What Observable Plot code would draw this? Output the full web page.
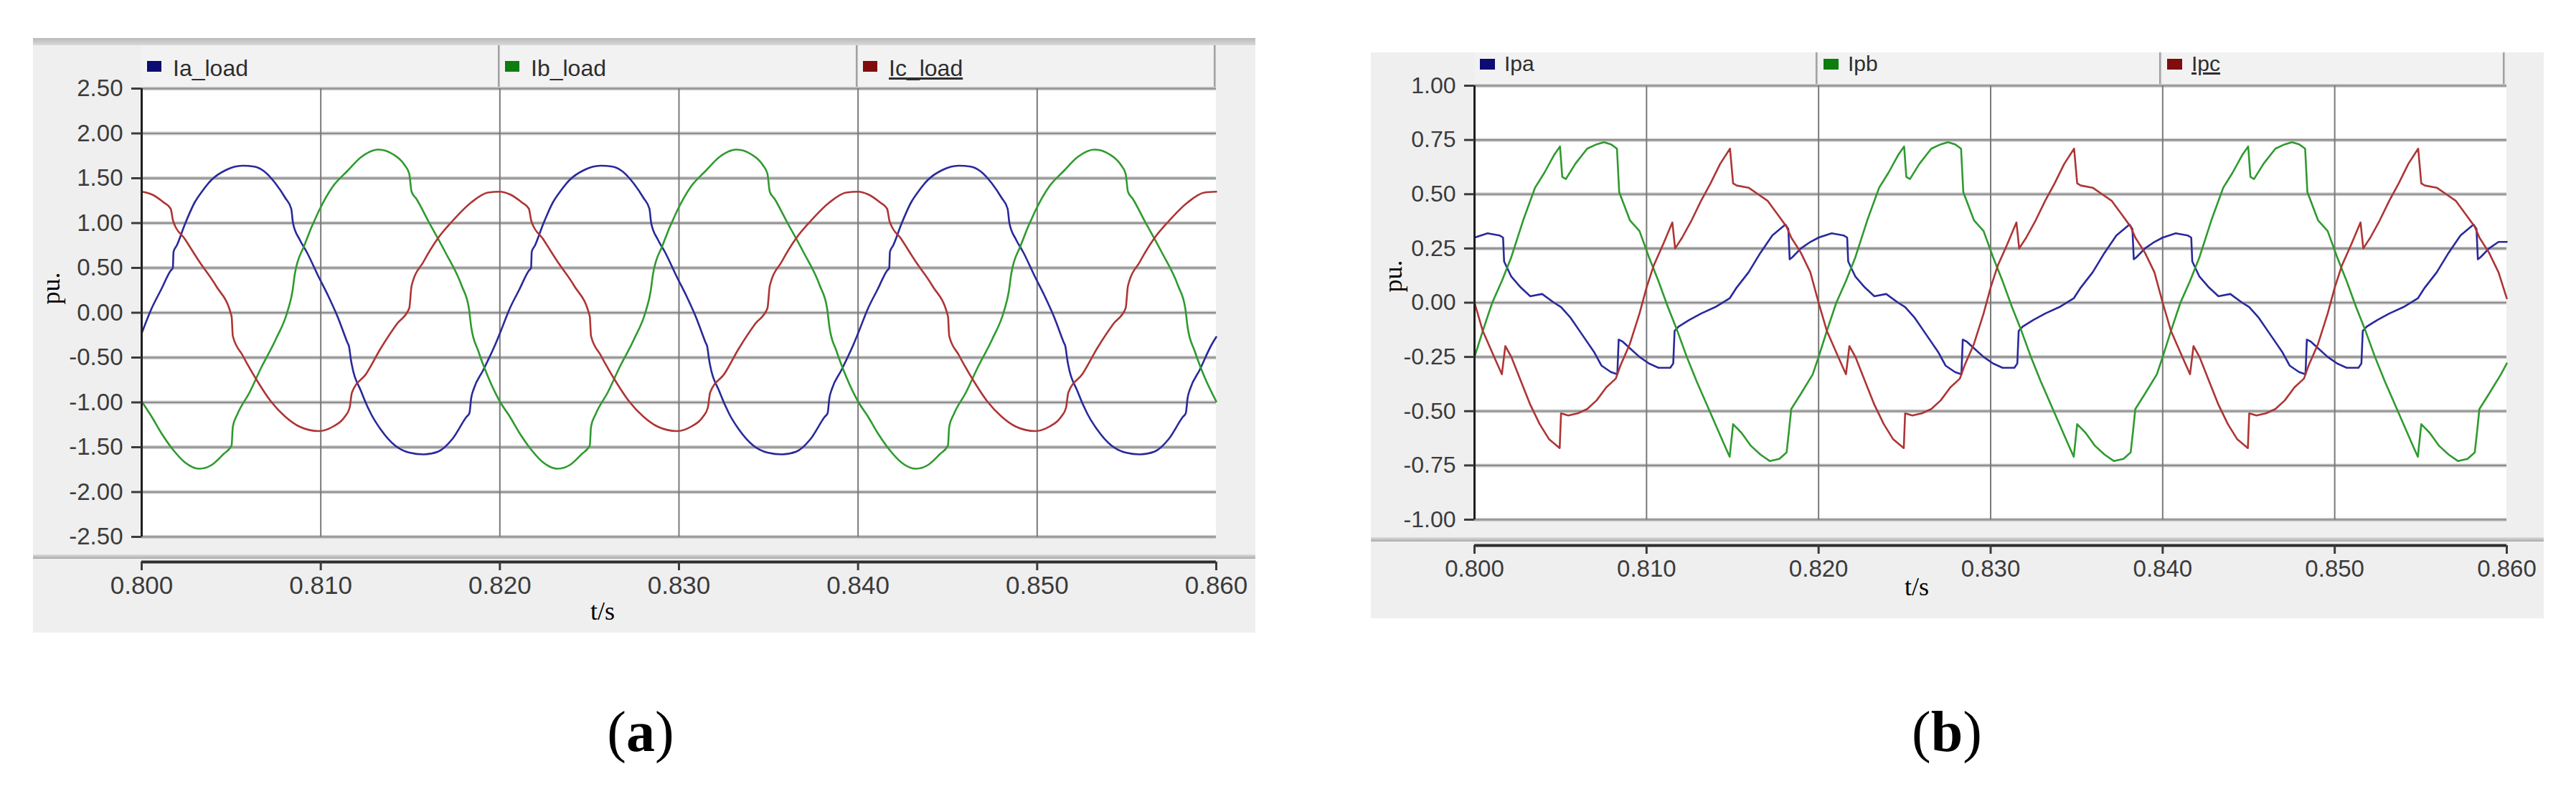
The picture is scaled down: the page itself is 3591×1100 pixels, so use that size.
<!DOCTYPE html>
<html>
<head>
<meta charset="utf-8">
<script src="https://cdn.jsdelivr.net/npm/d3@7"></script>
<script src="https://cdn.jsdelivr.net/npm/@observablehq/plot@0.6"></script>
<style>
  html, body { margin: 0; padding: 0; background: #ffffff; }
  body { position: relative; width: 3591px; height: 1100px; overflow: hidden;
         font-family: "Liberation Sans", Arial, sans-serif; }
  .abs { position: absolute; }
  .serif { font-family: "Liberation Serif", "Times New Roman", serif; color: #000; line-height: 1; white-space: nowrap; }
  .leg { position: absolute; color: #2e2e2e; line-height: 1; white-space: nowrap; }
</style>
</head>
<body>
<script>
// ---------------- DATA ----------------
const xTicks = [0.800, 0.810, 0.820, 0.830, 0.840, 0.850, 0.860];
const yTicksA = [-2.5, -2.0, -1.5, -1.0, -0.5, 0.0, 0.5, 1.0, 1.5, 2.0, 2.5];
const yTicksB = [-1.0, -0.75, -0.5, -0.25, 0.0, 0.25, 0.5, 0.75, 1.0];
const namesA = ["Ia_load", "Ib_load", "Ic_load"];
const namesB = ["Ipa", "Ipb", "Ipc"];
const yLabel = "pu.";
const xLabel = "t/s";
const captionA = "a";
const captionB = "b";

// Panel (a): load currents [t (s), value (pu)]
const iaLoad = [
  [0.80000,-0.23],[0.80056,0.05],[0.80109,0.26],[0.80162,0.47],[0.80174,0.50],[0.80178,0.68],[0.80196,0.75],[0.80242,0.99],[0.80296,1.23],[0.80336,1.35],[0.80389,1.48],[0.80469,1.59],[0.80562,1.64],[0.80628,1.63],[0.80682,1.58],[0.80748,1.44],[0.80802,1.28],[0.80835,1.16],[0.80845,1.00],[0.80881,0.82],[0.80921,0.68],[0.80988,0.40],[0.81041,0.19],[0.81095,-0.05],[0.81148,-0.33],[0.81158,-0.38],[0.81168,-0.52],[0.81228,-0.89],[0.81281,-1.13],[0.81334,-1.30],[0.81414,-1.48],[0.81494,-1.56],[0.81574,-1.58],[0.81654,-1.55],[0.81734,-1.41],[0.81814,-1.16],[0.81830,-1.12],[0.81840,-0.95],[0.81854,-0.85],[0.81907,-0.64],[0.81973,-0.36],
  [0.82000,-0.23],[0.82056,0.05],[0.82109,0.26],[0.82162,0.47],[0.82174,0.50],[0.82178,0.68],[0.82196,0.75],[0.82242,0.99],[0.82296,1.23],[0.82336,1.35],[0.82389,1.48],[0.82469,1.59],[0.82562,1.64],[0.82628,1.63],[0.82682,1.58],[0.82748,1.44],[0.82802,1.28],[0.82835,1.16],[0.82845,1.00],[0.82881,0.82],[0.82921,0.68],[0.82988,0.40],[0.83041,0.19],[0.83095,-0.05],[0.83148,-0.33],[0.83158,-0.38],[0.83168,-0.52],[0.83228,-0.89],[0.83281,-1.13],[0.83334,-1.30],[0.83414,-1.48],[0.83494,-1.56],[0.83574,-1.58],[0.83654,-1.55],[0.83734,-1.41],[0.83814,-1.16],[0.83830,-1.12],[0.83840,-0.95],[0.83854,-0.85],[0.83907,-0.64],[0.83973,-0.36],
  [0.84000,-0.23],[0.84056,0.05],[0.84109,0.26],[0.84162,0.47],[0.84174,0.50],[0.84178,0.68],[0.84196,0.75],[0.84242,0.99],[0.84296,1.23],[0.84336,1.35],[0.84389,1.48],[0.84469,1.59],[0.84562,1.64],[0.84628,1.63],[0.84682,1.58],[0.84748,1.44],[0.84802,1.28],[0.84835,1.16],[0.84845,1.00],[0.84881,0.82],[0.84921,0.68],[0.84988,0.40],[0.85041,0.19],[0.85095,-0.05],[0.85148,-0.33],[0.85158,-0.38],[0.85168,-0.52],[0.85228,-0.89],[0.85281,-1.13],[0.85334,-1.30],[0.85414,-1.48],[0.85494,-1.56],[0.85574,-1.58],[0.85654,-1.55],[0.85734,-1.41],[0.85814,-1.16],[0.85830,-1.12],[0.85840,-0.95],[0.85854,-0.85],[0.85907,-0.64],[0.85973,-0.36],[0.86000,-0.27]
];
const ibLoad = [
  [0.80000,-0.99],[0.80056,-1.16],[0.80109,-1.34],[0.80176,-1.53],[0.80242,-1.67],[0.80322,-1.74],[0.80389,-1.70],[0.80455,-1.58],[0.80502,-1.48],[0.80509,-1.27],[0.80535,-1.13],[0.80602,-0.89],[0.80668,-0.61],[0.80748,-0.30],[0.80815,0.02],[0.80842,0.24],[0.80855,0.43],[0.80908,0.75],[0.80988,1.13],[0.81068,1.41],[0.81148,1.58],[0.81228,1.74],[0.81321,1.82],[0.81401,1.77],[0.81467,1.65],[0.81494,1.55],[0.81507,1.35],[0.81534,1.27],[0.81601,1.02],[0.81694,0.68],[0.81787,0.30],[0.81827,0.05],[0.81840,-0.16],[0.81880,-0.43],[0.81933,-0.71],
  [0.82000,-0.99],[0.82056,-1.16],[0.82109,-1.34],[0.82176,-1.53],[0.82242,-1.67],[0.82322,-1.74],[0.82389,-1.70],[0.82455,-1.58],[0.82502,-1.48],[0.82509,-1.27],[0.82535,-1.13],[0.82602,-0.89],[0.82668,-0.61],[0.82748,-0.30],[0.82815,0.02],[0.82842,0.24],[0.82855,0.43],[0.82908,0.75],[0.82988,1.13],[0.83068,1.41],[0.83148,1.58],[0.83228,1.74],[0.83321,1.82],[0.83401,1.77],[0.83467,1.65],[0.83494,1.55],[0.83507,1.35],[0.83534,1.27],[0.83601,1.02],[0.83694,0.68],[0.83787,0.30],[0.83827,0.05],[0.83840,-0.16],[0.83880,-0.43],[0.83933,-0.71],
  [0.84000,-0.99],[0.84056,-1.16],[0.84109,-1.34],[0.84176,-1.53],[0.84242,-1.67],[0.84322,-1.74],[0.84389,-1.70],[0.84455,-1.58],[0.84502,-1.48],[0.84509,-1.27],[0.84535,-1.13],[0.84602,-0.89],[0.84668,-0.61],[0.84748,-0.30],[0.84815,0.02],[0.84842,0.24],[0.84855,0.43],[0.84908,0.75],[0.84988,1.13],[0.85068,1.41],[0.85148,1.58],[0.85228,1.74],[0.85321,1.82],[0.85401,1.77],[0.85467,1.65],[0.85494,1.55],[0.85507,1.35],[0.85534,1.27],[0.85601,1.02],[0.85694,0.68],[0.85787,0.30],[0.85827,0.05],[0.85840,-0.16],[0.85880,-0.43],[0.85933,-0.71],[0.86000,-0.99]
];
const icLoad = [
  [0.80000,1.35],[0.80056,1.32],[0.80123,1.23],[0.80162,1.16],[0.80176,1.02],[0.80242,0.82],[0.80322,0.57],[0.80415,0.30],[0.80502,-0.04],[0.80509,-0.26],[0.80562,-0.47],[0.80642,-0.75],[0.80722,-0.99],[0.80802,-1.16],[0.80881,-1.27],[0.80988,-1.32],[0.81068,-1.27],[0.81134,-1.16],[0.81161,-1.06],[0.81174,-0.89],[0.81254,-0.68],[0.81334,-0.40],[0.81427,-0.12],[0.81494,0.05],[0.81507,0.30],[0.81574,0.57],[0.81654,0.83],[0.81734,1.02],[0.81840,1.23],[0.81933,1.34],
  [0.82000,1.35],[0.82056,1.32],[0.82123,1.23],[0.82162,1.16],[0.82176,1.02],[0.82242,0.82],[0.82322,0.57],[0.82415,0.30],[0.82502,-0.04],[0.82509,-0.26],[0.82562,-0.47],[0.82642,-0.75],[0.82722,-0.99],[0.82802,-1.16],[0.82881,-1.27],[0.82988,-1.32],[0.83068,-1.27],[0.83134,-1.16],[0.83161,-1.06],[0.83174,-0.89],[0.83254,-0.68],[0.83334,-0.40],[0.83427,-0.12],[0.83494,0.05],[0.83507,0.30],[0.83574,0.57],[0.83654,0.83],[0.83734,1.02],[0.83840,1.23],[0.83933,1.34],
  [0.84000,1.35],[0.84056,1.32],[0.84123,1.23],[0.84162,1.16],[0.84176,1.02],[0.84242,0.82],[0.84322,0.57],[0.84415,0.30],[0.84502,-0.04],[0.84509,-0.26],[0.84562,-0.47],[0.84642,-0.75],[0.84722,-0.99],[0.84802,-1.16],[0.84881,-1.27],[0.84988,-1.32],[0.85068,-1.27],[0.85134,-1.16],[0.85161,-1.06],[0.85174,-0.89],[0.85254,-0.68],[0.85334,-0.40],[0.85427,-0.12],[0.85494,0.05],[0.85507,0.30],[0.85574,0.57],[0.85654,0.83],[0.85734,1.02],[0.85840,1.23],[0.85933,1.34],[0.86000,1.35]
];

// Panel (b): filter currents [t (s), value (pu)]
const ipa = [
  [0.80000,0.30],[0.80076,0.32],[0.80145,0.31],[0.80166,0.30],[0.80172,0.19],[0.80214,0.12],[0.80269,0.07],[0.80324,0.03],[0.80393,0.04],[0.80462,0.00],[0.80503,-0.02],[0.80559,-0.07],[0.80628,-0.15],[0.80697,-0.23],[0.80738,-0.29],[0.80793,-0.32],[0.80830,-0.33],[0.80838,-0.17],[0.80862,-0.18],[0.80903,-0.21],[0.80959,-0.25],[0.81014,-0.28],[0.81069,-0.30],[0.81138,-0.30],[0.81155,-0.28],[0.81163,-0.13],[0.81186,-0.11],[0.81248,-0.08],[0.81317,-0.05],[0.81400,-0.02],[0.81483,0.02],[0.81524,0.07],[0.81593,0.14],[0.81662,0.23],[0.81731,0.31],[0.81807,0.36],[0.81824,0.34],[0.81832,0.20],[0.81848,0.21],[0.81897,0.25],[0.81952,0.28],
  [0.82000,0.30],[0.82076,0.32],[0.82145,0.31],[0.82166,0.30],[0.82172,0.19],[0.82214,0.12],[0.82269,0.07],[0.82324,0.03],[0.82393,0.04],[0.82462,0.00],[0.82503,-0.02],[0.82559,-0.07],[0.82628,-0.15],[0.82697,-0.23],[0.82738,-0.29],[0.82793,-0.32],[0.82830,-0.33],[0.82838,-0.17],[0.82862,-0.18],[0.82903,-0.21],[0.82959,-0.25],[0.83014,-0.28],[0.83069,-0.30],[0.83138,-0.30],[0.83155,-0.28],[0.83163,-0.13],[0.83186,-0.11],[0.83248,-0.08],[0.83317,-0.05],[0.83400,-0.02],[0.83483,0.02],[0.83524,0.07],[0.83593,0.14],[0.83662,0.23],[0.83731,0.31],[0.83807,0.36],[0.83824,0.34],[0.83832,0.20],[0.83848,0.21],[0.83897,0.25],[0.83952,0.28],
  [0.84000,0.30],[0.84076,0.32],[0.84145,0.31],[0.84166,0.30],[0.84172,0.19],[0.84214,0.12],[0.84269,0.07],[0.84324,0.03],[0.84393,0.04],[0.84462,0.00],[0.84503,-0.02],[0.84559,-0.07],[0.84628,-0.15],[0.84697,-0.23],[0.84738,-0.29],[0.84793,-0.32],[0.84830,-0.33],[0.84838,-0.17],[0.84862,-0.18],[0.84903,-0.21],[0.84959,-0.25],[0.85014,-0.28],[0.85069,-0.30],[0.85138,-0.30],[0.85155,-0.28],[0.85163,-0.13],[0.85186,-0.11],[0.85248,-0.08],[0.85317,-0.05],[0.85400,-0.02],[0.85483,0.02],[0.85524,0.07],[0.85593,0.14],[0.85662,0.23],[0.85731,0.31],[0.85807,0.36],[0.85824,0.34],[0.85832,0.20],[0.85848,0.21],[0.85897,0.25],[0.85952,0.28],[0.86000,0.28]
];
const ipb = [
  [0.80000,-0.25],[0.80048,-0.13],[0.80103,0.00],[0.80159,0.10],[0.80214,0.21],[0.80283,0.38],[0.80352,0.53],[0.80407,0.60],[0.80462,0.68],[0.80497,0.72],[0.80510,0.58],[0.80531,0.57],[0.80586,0.64],[0.80655,0.71],[0.80710,0.73],[0.80752,0.74],[0.80793,0.73],[0.80828,0.71],[0.80841,0.51],[0.80903,0.38],[0.80959,0.33],[0.81014,0.21],[0.81069,0.10],[0.81124,-0.02],[0.81179,-0.13],[0.81234,-0.25],[0.81290,-0.36],[0.81345,-0.46],[0.81400,-0.56],[0.81455,-0.66],[0.81483,-0.71],[0.81503,-0.56],[0.81552,-0.60],[0.81607,-0.66],[0.81662,-0.70],[0.81717,-0.73],[0.81772,-0.72],[0.81814,-0.69],[0.81828,-0.59],[0.81841,-0.49],[0.81897,-0.42],[0.81966,-0.33],
  [0.82000,-0.25],[0.82048,-0.13],[0.82103,0.00],[0.82159,0.10],[0.82214,0.21],[0.82283,0.38],[0.82352,0.53],[0.82407,0.60],[0.82462,0.68],[0.82497,0.72],[0.82510,0.58],[0.82531,0.57],[0.82586,0.64],[0.82655,0.71],[0.82710,0.73],[0.82752,0.74],[0.82793,0.73],[0.82828,0.71],[0.82841,0.51],[0.82903,0.38],[0.82959,0.33],[0.83014,0.21],[0.83069,0.10],[0.83124,-0.02],[0.83179,-0.13],[0.83234,-0.25],[0.83290,-0.36],[0.83345,-0.46],[0.83400,-0.56],[0.83455,-0.66],[0.83483,-0.71],[0.83503,-0.56],[0.83552,-0.60],[0.83607,-0.66],[0.83662,-0.70],[0.83717,-0.73],[0.83772,-0.72],[0.83814,-0.69],[0.83828,-0.59],[0.83841,-0.49],[0.83897,-0.42],[0.83966,-0.33],
  [0.84000,-0.25],[0.84048,-0.13],[0.84103,0.00],[0.84159,0.10],[0.84214,0.21],[0.84283,0.38],[0.84352,0.53],[0.84407,0.60],[0.84462,0.68],[0.84497,0.72],[0.84510,0.58],[0.84531,0.57],[0.84586,0.64],[0.84655,0.71],[0.84710,0.73],[0.84752,0.74],[0.84793,0.73],[0.84828,0.71],[0.84841,0.51],[0.84903,0.38],[0.84959,0.33],[0.85014,0.21],[0.85069,0.10],[0.85124,-0.02],[0.85179,-0.13],[0.85234,-0.25],[0.85290,-0.36],[0.85345,-0.46],[0.85400,-0.56],[0.85455,-0.66],[0.85483,-0.71],[0.85503,-0.56],[0.85552,-0.60],[0.85607,-0.66],[0.85662,-0.70],[0.85717,-0.73],[0.85772,-0.72],[0.85814,-0.69],[0.85828,-0.59],[0.85841,-0.49],[0.85897,-0.42],[0.85966,-0.33],[0.86000,-0.28]
];
const ipc = [
  [0.80000,0.00],[0.80048,-0.13],[0.80103,-0.23],[0.80159,-0.33],[0.80179,-0.20],[0.80214,-0.25],[0.80269,-0.36],[0.80324,-0.47],[0.80379,-0.56],[0.80434,-0.63],[0.80495,-0.67],[0.80503,-0.51],[0.80545,-0.52],[0.80600,-0.51],[0.80655,-0.49],[0.80710,-0.45],[0.80766,-0.39],[0.80821,-0.35],[0.80848,-0.29],[0.80903,-0.19],[0.80959,-0.05],[0.81000,0.07],[0.81041,0.17],[0.81097,0.27],[0.81150,0.37],[0.81166,0.25],[0.81207,0.30],[0.81262,0.38],[0.81317,0.47],[0.81372,0.55],[0.81428,0.64],[0.81485,0.71],[0.81503,0.55],[0.81524,0.54],[0.81593,0.53],[0.81648,0.50],[0.81703,0.47],[0.81759,0.41],[0.81814,0.35],[0.81841,0.30],[0.81897,0.23],[0.81952,0.14],
  [0.82000,0.00],[0.82048,-0.13],[0.82103,-0.23],[0.82159,-0.33],[0.82179,-0.20],[0.82214,-0.25],[0.82269,-0.36],[0.82324,-0.47],[0.82379,-0.56],[0.82434,-0.63],[0.82495,-0.67],[0.82503,-0.51],[0.82545,-0.52],[0.82600,-0.51],[0.82655,-0.49],[0.82710,-0.45],[0.82766,-0.39],[0.82821,-0.35],[0.82848,-0.29],[0.82903,-0.19],[0.82959,-0.05],[0.83000,0.07],[0.83041,0.17],[0.83097,0.27],[0.83150,0.37],[0.83166,0.25],[0.83207,0.30],[0.83262,0.38],[0.83317,0.47],[0.83372,0.55],[0.83428,0.64],[0.83485,0.71],[0.83503,0.55],[0.83524,0.54],[0.83593,0.53],[0.83648,0.50],[0.83703,0.47],[0.83759,0.41],[0.83814,0.35],[0.83841,0.30],[0.83897,0.23],[0.83952,0.14],
  [0.84000,0.00],[0.84048,-0.13],[0.84103,-0.23],[0.84159,-0.33],[0.84179,-0.20],[0.84214,-0.25],[0.84269,-0.36],[0.84324,-0.47],[0.84379,-0.56],[0.84434,-0.63],[0.84495,-0.67],[0.84503,-0.51],[0.84545,-0.52],[0.84600,-0.51],[0.84655,-0.49],[0.84710,-0.45],[0.84766,-0.39],[0.84821,-0.35],[0.84848,-0.29],[0.84903,-0.19],[0.84959,-0.05],[0.85000,0.07],[0.85041,0.17],[0.85097,0.27],[0.85150,0.37],[0.85166,0.25],[0.85207,0.30],[0.85262,0.38],[0.85317,0.47],[0.85372,0.55],[0.85428,0.64],[0.85485,0.71],[0.85503,0.55],[0.85524,0.54],[0.85593,0.53],[0.85648,0.50],[0.85703,0.47],[0.85759,0.41],[0.85814,0.35],[0.85841,0.30],[0.85897,0.23],[0.85952,0.14],[0.86000,0.02]
];

// ---------------- LAYOUT / STYLE ----------------
const lineColors = ["#29299b", "#2f9a2f", "#ad3535"];
const swatchColors = ["#0c0c72", "#0d7d0d", "#800c0c"];

const panels = [
  { names: namesA, series: [iaLoad, ibLoad, icLoad], yTicks: yTicksA, yFloor: -2.78, curve: "monotone-x",
    box: [46, 53, 1704, 829], topBand: true, plotLeft: 197, plotRight: 1695, plotTop: 123, axisY: 783, sepY: 773,
    legend: { left: 198, top: 63, width: 1497, height: 58, font: 32, swX: 7, swY: 22, swW: 20, swH: 15, txX: 43, base: 43 },
    yFont: 33, xFont: 35, pu: [71, 402], ts: [840, 852], cap: [893, 1020], capText: captionA },
  { names: namesB, series: [ipa, ipb, ipc], yTicks: yTicksB, yFloor: -1.119, curve: "linear",
    box: [1911, 73, 1635, 789], topBand: false, plotLeft: 2055, plotRight: 3494, plotTop: 119, axisY: 760, sepY: 749,
    legend: { left: 2055, top: 73, width: 1437, height: 45, font: 30, swX: 8, swY: 9, swW: 21, swH: 15, txX: 42, base: 26 },
    yFont: 32, xFont: 33, pu: [1942, 385], ts: [2672, 818], cap: [2714, 1020], capText: captionB }
];

function addDiv(style, html, cls) {
  const d = document.createElement("div");
  d.className = cls || "abs";
  Object.assign(d.style, style);
  if (html != null) d.innerHTML = html;
  document.body.appendChild(d);
  return d;
}
const px = v => v + "px";

for (const p of panels) {
  const [bx, by, bw, bh] = p.box;
  // gray window background
  addDiv({ left: px(bx), top: px(by), width: px(bw), height: px(bh), background: "#efefef" });
  if (p.topBand) addDiv({ left: px(bx), top: px(by), width: px(bw), height: px(10), background: "linear-gradient(#b9b9b9,#d9d9d9)" });
  // separator above the time axis
  addDiv({ left: px(bx), top: px(p.sepY), width: px(bw), height: px(6), background: "linear-gradient(#dcdcdc,#a9a9a9)" });

  // legend strip
  const L = p.legend;
  addDiv({ left: px(L.left), top: px(L.top), width: px(L.width), height: px(L.height), background: "#f2f2f2" });
  const cw = L.width / p.names.length;
  p.names.forEach((name, i) => {
    const cx = L.left + i * cw;
    addDiv({ left: px(cx + cw - 3), top: px(L.top), width: px(3), height: px(L.height), background: "linear-gradient(90deg,#8f8f8f,#c8c8c8)" });
    addDiv({ left: px(cx + L.swX), top: px(L.top + L.swY), width: px(L.swW), height: px(L.swH), background: swatchColors[i] });
    const t = addDiv({ left: px(cx + L.txX), top: px(L.top + L.base - 0.8465 * L.font), fontSize: px(L.font) }, null, "leg");
    t.textContent = name;
    if (i === p.names.length - 1) t.style.textDecoration = "underline";
  });

  // the chart itself
  const xMin = xTicks[0], xMax = xTicks[xTicks.length - 1];
  const yMin = p.yTicks[0], yMax = p.yTicks[p.yTicks.length - 1];
  const svg = Plot.plot({
    width: bw, height: bh,
    marginLeft: p.plotLeft - bx,
    marginRight: bx + bw - p.plotRight,
    marginTop: p.plotTop - by,
    marginBottom: by + bh - p.axisY,
    x: { domain: [xMin, xMax] },
    y: { domain: [p.yFloor, yMax] },
    style: { background: "transparent", overflow: "visible", fontFamily: "'Liberation Sans', Arial, sans-serif" },
    marks: [
      Plot.rect([0], { x1: () => xMin, x2: () => xMax, y1: () => yMin, y2: () => yMax, fill: "#ffffff" }),
      Plot.ruleY(p.yTicks, { x1: () => xMin, x2: () => xMax, stroke: "#cbcbcb", strokeWidth: 5 }),
      Plot.ruleY(p.yTicks, { x1: () => xMin, x2: () => xMax, stroke: "#8e8e8e", strokeWidth: 2.2 }),
      Plot.ruleX(xTicks.slice(1, -1), { y1: () => yMin, y2: () => yMax, stroke: "#7a7a7a", strokeWidth: 2 }),
      ...p.series.map((s, i) => Plot.line(s, { x: d => d[0], y: d => d[1], stroke: lineColors[i], strokeWidth: 2.6, curve: p.curve })),
      Plot.ruleX([xMin], { y1: () => yMin, y2: () => yMax, stroke: "#1e1e1e", strokeWidth: 3 }),
      Plot.axisY({ ticks: p.yTicks, tickFormat: d => d.toFixed(2), tickSize: 14, tickPadding: 12, fontSize: p.yFont, color: "#3b3b3b", strokeWidth: 3, label: null }),
      Plot.ruleY([p.yFloor], { x1: () => xMin, x2: () => xMax, stroke: "#2e2e2e", strokeWidth: 4 }),
      Plot.axisX({ ticks: xTicks, tickFormat: d => d.toFixed(3), tickSize: 12, tickPadding: 8, fontSize: p.xFont, color: "#3b3b3b", strokeWidth: 3, label: null })
    ]
  });
  svg.style.position = "absolute";
  svg.style.left = px(bx);
  svg.style.top = px(by);
  svg.style.maxWidth = "none";
  document.body.appendChild(svg);

  // axis titles
  const pu = addDiv({ left: px(p.pu[0]), top: px(p.pu[1]), fontSize: "36px", transform: "translate(-50%,-50%) rotate(-90deg)" }, null, "serif");
  pu.style.position = "absolute";
  pu.textContent = yLabel;
  const ts = addDiv({ left: px(p.ts[0]), top: px(p.ts[1]), fontSize: "36px", transform: "translate(-50%,-50%)" }, null, "serif");
  ts.style.position = "absolute";
  ts.textContent = xLabel;

  // panel caption
  const cap = addDiv({ left: px(p.cap[0]), top: px(p.cap[1]), fontSize: "80px", transform: "translate(-50%,-50%)" }, null, "serif");
  cap.style.position = "absolute";
  cap.innerHTML = "(<b>" + p.capText + "</b>)";
}
</script>
</body>
</html>
